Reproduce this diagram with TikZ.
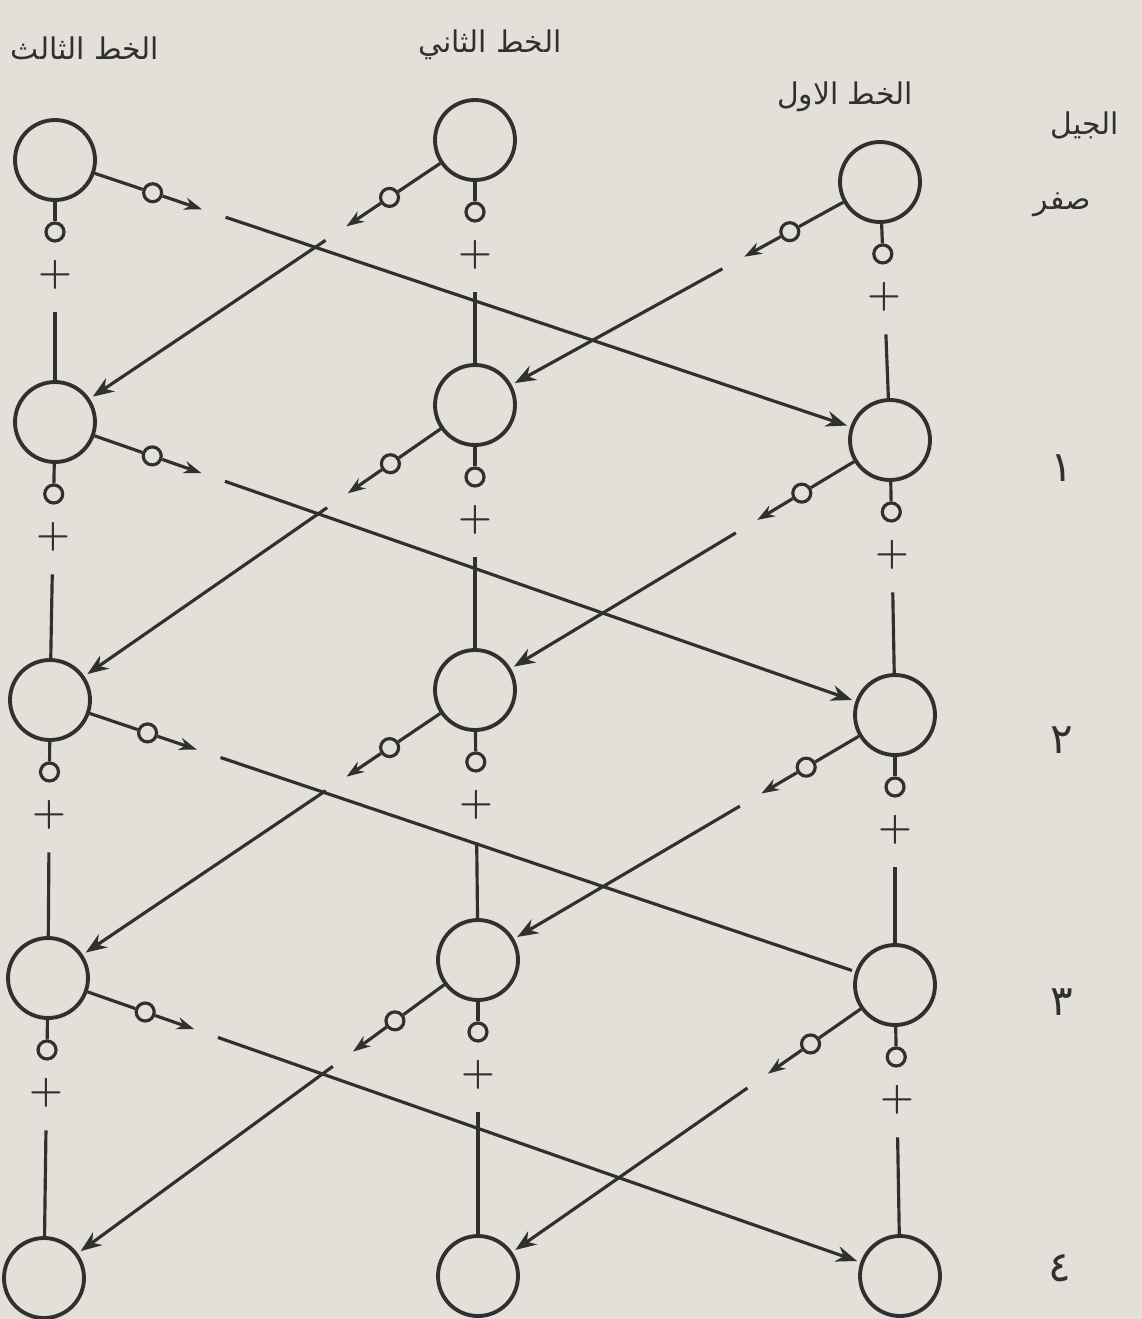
\documentclass[tikz,border=0pt]{standalone}
\usepackage{fontspec}
\usepackage{tikz}
\usetikzlibrary{calc,arrows.meta}
\newfontfamily\arabicfont[Script=Arabic]{DejaVu Sans}
\TeXXeTstate=1
\definecolor{paper}{RGB}{226,224,217}
\definecolor{ink}{RGB}{48,48,48}

\begin{document}
\begin{tikzpicture}[x=0.02cm, y=-0.02cm, color=ink, line width=1.8pt,
    gen/.style = {draw, circle, minimum size=1.6cm, line width=2.2pt},
    dot/.style = {draw, circle, minimum size=0.36cm, inner sep=0pt, line width=1.8pt},
    plus/.style = {inner sep=0pt, font=\fontsize{22}{22}\selectfont\bfseries},
    lbl/.style = {font=\arabicfont\fontsize{17}{20}\selectfont},
    num/.style = {font=\arabicfont\fontsize{24}{26}\selectfont},
    hit/.style = {-{Stealth[length=12pt,width=9pt]}, shorten >=2pt},
    nohit/.style = {shorten >=2pt}]
    \path[use as bounding box, fill=paper] (0,0) rectangle (1142,1319);

    \node[gen] (l0) at (55,160) {};
    \node[gen] (l1) at (55,422) {};
    \node[gen] (l2) at (50,700) {};
    \node[gen] (l3) at (48,978) {};
    \node[gen] (l4) at (44,1278) {};
    \node[gen] (m0) at (475,140) {};
    \node[gen] (m1) at (475,405) {};
    \node[gen] (m2) at (475,690) {};
    \node[gen] (m3) at (478,960) {};
    \node[gen] (m4) at (478,1276) {};
    \node[gen] (r0) at (880,182) {};
    \node[gen] (r1) at (890,440) {};
    \node[gen] (r2) at (895,715) {};
    \node[gen] (r3) at (895,985) {};
    \node[gen] (r4) at (900,1276) {};

    \node[lbl] (t3) at (85,48) {\beginR الخط الثالث\endR};
    \node[lbl] (t2) at (490,45) {\beginR الخط الثاني\endR};
    \node[lbl] (t1) at (845,97) {\beginR الخط الاول\endR};
    \node[lbl] (gen) at (1085,125) {\beginR الجيل\endR};
    \node[lbl] (g0) at (1062,205) {\beginR صفر\endR};
    \node[num] (g1) at (1062,468) {١};
    \node[num] (g2) at (1062,740) {٢};
    \node[num] (g3) at (1062,1002) {٣};
    \node[num] (g4) at (1060,1268) {٤};

    \foreach \s/\t in {l0/l1, l1/l2, l2/l3, l3/l4, m0/m1, m1/m2, m2/m3, m3/m4,
                       r0/r1, r1/r2, r2/r3, r3/r4} {
        \node[dot] (v\s) at ($(\s)!1.44cm!(\t)$) {};
        \draw (\s) -- (v\s);
        \node[plus] (p\s) at ($(\s)!2.3cm!(\t)$) {+};
        \coordinate (u\s) at ($(\s)!3.05cm!(\t)$);
        \draw (u\s) -- (\t);
    }

    \foreach \s/\t/\e in {l0/r1/hit, l1/r2/hit, l2/r3/nohit, l3/r4/hit,
                          m0/l1/hit, m1/l2/hit, m2/l3/hit, m3/l4/hit,
                          r0/m1/hit, r1/m2/hit, r2/m3/hit, r3/m4/hit} {
        \node[dot] (d\s) at ($(\s)!2.06cm!(\t)$) {};
        \draw (\s) -- (d\s);
        \coordinate (a\s) at ($(\s)!3.1cm!(\t)$);
        \draw[-{Stealth[length=10pt,width=7pt]}] (d\s) -- (a\s);
        \coordinate (e\s) at ($(\s)!3.6cm!(\t)$);
        \draw[\e] (e\s) -- (\t);
    }
\end{tikzpicture}
\end{document}
